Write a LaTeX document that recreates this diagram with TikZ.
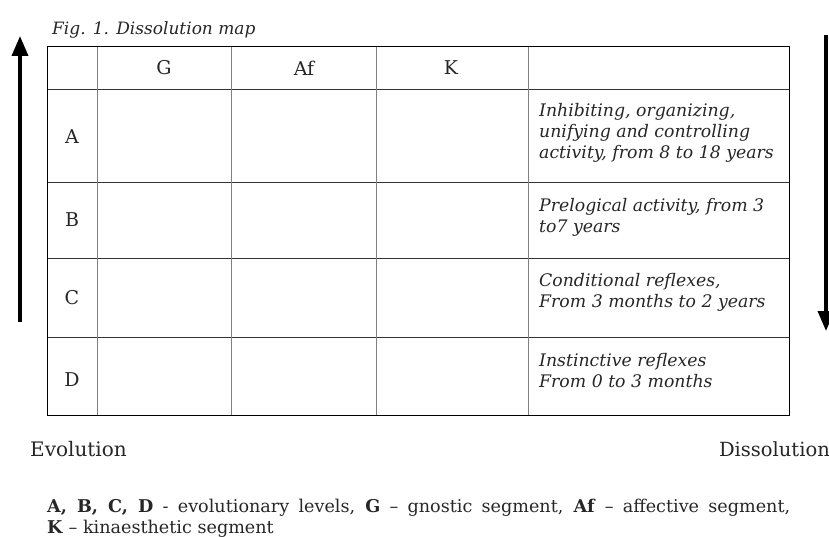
\documentclass[tikz,border=0pt]{standalone}
\usepackage{fontspec}
\setmainfont{DejaVu Serif}
\usetikzlibrary{arrows.meta}
\begin{document}
\begin{tikzpicture}[x=1pt,y=-1pt,
  hline/.style={draw=black!80,line width=0.9pt},
  vline/.style={draw=black!50,line width=0.9pt},
  bigarrow/.style={line width=3.6pt,-{Triangle[length=20pt,width=16pt]}},
  celltxt/.style={font=\fontsize{19}{19}\selectfont,inner sep=0pt,text=black!85},
  desc/.style={font=\fontsize{17.3}{21}\selectfont\itshape,align=left,anchor=west,inner sep=0pt,text=black!85},
  notetxt/.style={font=\fontsize{17.6}{21}\selectfont,anchor=base west,inner sep=0pt,text=black!85}]
\useasboundingbox (0,0) rectangle (829,537);
\clip (0,0) rectangle (829,537);
% arrows
\coordinate (la) at (20,322); \coordinate (lb) at (20,36);
\draw[bigarrow] (la) -- (lb);
\coordinate (ra) at (826,35); \coordinate (rb) at (826,331);
\draw[bigarrow] (ra) -- (rb);
% caption
\node[font=\fontsize{17}{17}\selectfont\itshape,anchor=west,inner sep=0pt,text=black!85] (cap) at (52,30) {Fig. 1. Dissolution map};
% table lines
\foreach \y in {89,182,258,337} \draw[hline] (47,\y) -- (789,\y);
\foreach \x in {97,231,376,528} \draw[vline] (\x,47) -- (\x,415);
\draw[draw=black,line width=1pt] (47,47) rectangle (789,415);
% header
\node[celltxt] (hg) at (164,68) {G};
\node[celltxt] (haf) at (304,68) {Af};
\node[celltxt] (hk) at (451,68) {K};
% row labels
\node[celltxt] (ra1) at (72,137) {A};
\node[celltxt] (rb1) at (72,220) {B};
\node[celltxt] (rc1) at (72,298) {C};
\node[celltxt] (rd1) at (72,380) {D};
% descriptions
\node[desc] (da) at (539,133) {Inhibiting, organizing,\\unifying and controlling\\activity, from 8 to 18 years};
\node[desc] (db) at (539,217) {Prelogical activity, from 3\\to7 years};
\node[desc] (dc) at (539,292) {Conditional reflexes,\\From 3 months to 2 years};
\node[desc] (dd) at (539,371) {Instinctive reflexes\\From 0 to 3 months};
% evolution / dissolution
\node[font=\fontsize{20}{20}\selectfont,anchor=west,inner sep=0pt,text=black!85] (evo) at (30,449) {Evolution};
\node[font=\fontsize{19.5}{19.5}\selectfont,anchor=east,inner sep=0pt,text=black!85] (dis) at (830,449) {Dissolution};
% footnote
\node[notetxt] (note1) at (47,512)
 {\makebox[743pt][s]{\textbf{A, B, C, D} - evolutionary levels, \textbf{G} – gnostic segment, \textbf{Af} – affective segment,}};
\node[notetxt] (note2) at (47,533) {\textbf{K} – kinaesthetic segment};
\end{tikzpicture}
\end{document}
